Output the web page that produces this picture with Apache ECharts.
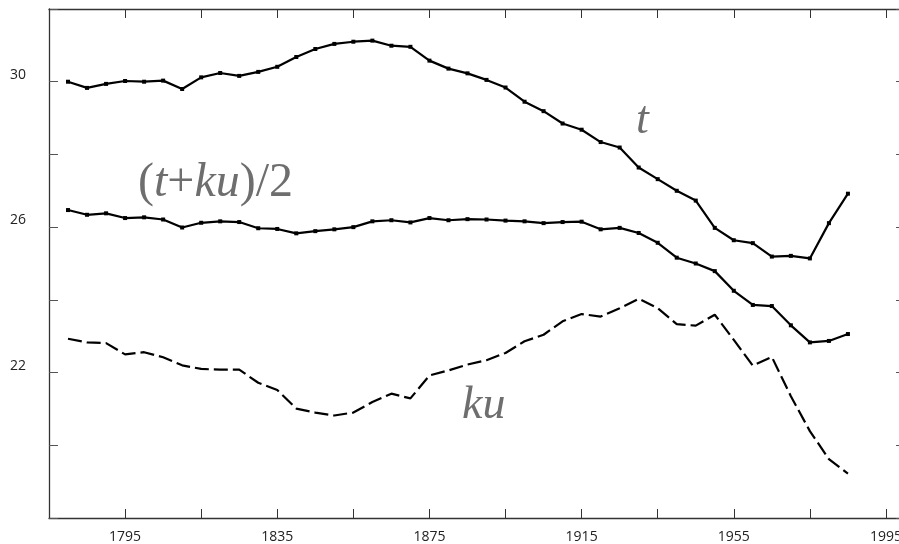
<!DOCTYPE html>
<html lang="en">
<head>
    <meta charset="UTF-8">
    <title>t, ku, (t+ku)/2</title>
    <script src="https://cdn.jsdelivr.net/npm/echarts@6/dist/echarts.min.js"></script>
    <style>
        html, body { margin: 0; padding: 0; background: #fff; }
        #main { width: 899px; height: 544px; }
    </style>
</head>
<body>
    <div id="main"></div>
    <script>
        // years of the points, every 5 years
        var years = [1780, 1785, 1790, 1795, 1800, 1805, 1810, 1815, 1820, 1825, 1830,
            1835, 1840, 1845, 1850, 1855, 1860, 1865, 1870, 1875, 1880, 1885,
            1890, 1895, 1900, 1905, 1910, 1915, 1920, 1925, 1930, 1935, 1940,
            1945, 1950, 1955, 1960, 1965, 1970, 1975, 1980, 1985];
        var tVals = [30.00, 29.83, 29.94, 30.02, 30.00, 30.03, 29.80, 30.12, 30.24, 30.16, 30.27,
            30.41, 30.68, 30.90, 31.04, 31.10, 31.13, 30.99, 30.96, 30.58, 30.36, 30.23,
            30.05, 29.84, 29.45, 29.19, 28.85, 28.68, 28.34, 28.19, 27.64, 27.32, 27.00,
            26.73, 25.98, 25.64, 25.56, 25.19, 25.21, 25.14, 26.11, 26.92];
        var avgVals = [26.47, 26.34, 26.38, 26.25, 26.27, 26.21, 25.99, 26.12, 26.16, 26.14, 25.97,
            25.95, 25.83, 25.89, 25.94, 26.00, 26.16, 26.19, 26.13, 26.25, 26.19, 26.22,
            26.21, 26.18, 26.16, 26.11, 26.14, 26.15, 25.94, 25.98, 25.84, 25.57, 25.16,
            25.00, 24.79, 24.25, 23.86, 23.83, 23.30, 22.83, 22.87, 23.06];
        var kuVals = [22.93, 22.83, 22.81, 22.50, 22.56, 22.42, 22.20, 22.10, 22.08, 22.08, 21.72,
            21.52, 21.01, 20.90, 20.82, 20.90, 21.19, 21.42, 21.29, 21.92, 22.06, 22.22,
            22.34, 22.54, 22.86, 23.04, 23.41, 23.61, 23.54, 23.77, 24.03, 23.77, 23.33,
            23.29, 23.59, 22.90, 22.19, 22.43, 21.35, 20.39, 19.62, 19.22];
        // labelled ticks
        var xTickLabels = [1795, 1835, 1875, 1915, 1955, 1995];
        var yTickLabels = [22, 26, 30];

        function pairs(vals) {
            return years.map(function (y, i) { return [y, vals[i]]; });
        }

        var axisColor = '#333';
        var labelFont = '"Open Sans", "Noto Sans", sans-serif';

        var myChart = echarts.init(document.getElementById('main'));

        var baseX = {
            type: 'value', min: 1775, max: 2000, interval: 20,
            axisLine: { show: true, lineStyle: { color: axisColor, width: 1.3 } },
            axisTick: { show: true, inside: true, length: 9, lineStyle: { color: axisColor } },
            splitLine: { show: false }
        };
        var baseY = {
            type: 'value', min: 18, max: 32, interval: 2,
            axisLine: { show: true, lineStyle: { color: axisColor, width: 1.3 } },
            axisTick: { show: true, inside: true, length: 9, lineStyle: { color: '#555' } },
            splitLine: { show: false }
        };

        var lineSeries = function (name, vals, dashed) {
            return {
                name: name,
                type: 'line',
                data: pairs(vals),
                symbol: dashed ? 'none' : 'rect',
                symbolSize: 4,
                showSymbol: !dashed,
                itemStyle: { color: '#000' },
                lineStyle: { color: '#000', width: 2.2, type: dashed ? [14, 5] : 'solid' },
                animation: false,
                silent: true
            };
        };

        var option = {
            backgroundColor: '#fff',
            animation: false,
            // plot box runs a little past the right edge of the picture
            grid: { left: 49, top: 9, width: 856, bottom: 26, outerBoundsMode: 'none', containLabel: false },
            xAxis: [
                Object.assign({}, baseX, {
                    position: 'bottom',
                    axisLabel: {
                        show: true, margin: 12, color: '#222', fontSize: 14, fontFamily: labelFont,
                        formatter: function (v) {
                            return xTickLabels.indexOf(v) >= 0 ? String(v) : '';
                        }
                    }
                }),
                Object.assign({}, baseX, { position: 'top', axisLabel: { show: false } })
            ],
            yAxis: [
                Object.assign({}, baseY, {
                    position: 'left',
                    axisLabel: {
                        show: true, margin: 23, color: '#222', fontSize: 14, fontFamily: labelFont,
                        verticalAlign: 'bottom',
                        formatter: function (v) {
                            return yTickLabels.indexOf(v) >= 0 ? String(v) : '';
                        }
                    }
                }),
                Object.assign({}, baseY, { position: 'right', axisLabel: { show: false } })
            ],
            series: [
                lineSeries('t', tVals, false),
                lineSeries('(t+ku)/2', avgVals, false),
                lineSeries('ku', kuVals, true)
            ],
            graphic: [
                {
                    type: 'text', left: 138, top: 159, silent: true,
                    style: {
                        text: '({i|t}+{i|ku})/2',
                        font: '48px "Liberation Serif", serif',
                        fill: '#6e6e6e',
                        rich: { i: { fontStyle: 'italic', fontSize: 48, fontFamily: '"Liberation Serif", serif', fill: '#6e6e6e' } }
                    }
                },
                {
                    type: 'text', left: 636, top: 98, silent: true,
                    style: { text: 't', font: 'italic 46px "Liberation Serif", serif', fill: '#6e6e6e' }
                },
                {
                    type: 'text', left: 462, top: 383, silent: true,
                    style: { text: 'ku', font: 'italic 46px "Liberation Serif", serif', fill: '#6e6e6e' }
                }
            ]
        };

        myChart.setOption(option);
    </script>
</body>
</html>
